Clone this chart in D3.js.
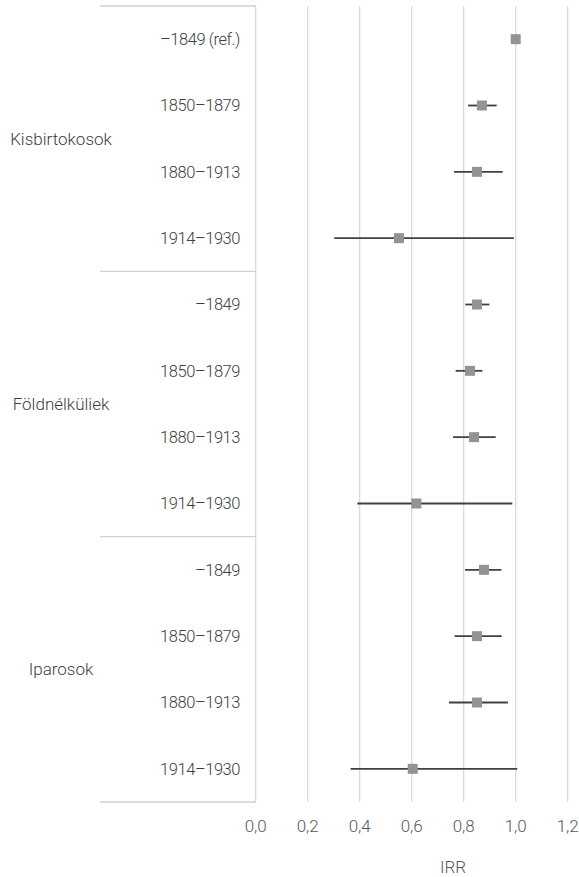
<!DOCTYPE html>
<html>
<head>
<meta charset="utf-8">
<script src="https://cdn.jsdelivr.net/npm/d3@7"></script>
<style>
  html, body { margin: 0; padding: 0; background: #fff; }
  svg text { font-family: Roboto, "Open Sans", sans-serif; font-weight: 300; }
</style>
</head>
<body>
<svg id="chart" width="579" height="877"></svg>
<script>
const groups = ["Kisbirtokosok", "Földnélküliek", "Iparosok"];
const periods = ["–1849 (ref.)", "1850–1879", "1880–1913", "1914–1930",
                 "–1849", "1850–1879", "1880–1913", "1914–1930",
                 "–1849", "1850–1879", "1880–1913", "1914–1930"];
const irr   = [1.000, 0.870, 0.851, 0.551, 0.851, 0.824, 0.840, 0.618, 0.878, 0.851, 0.851, 0.604];
const lower = [null, 0.817, 0.763, 0.302, 0.806, 0.769, 0.759, 0.391, 0.805, 0.765, 0.743, 0.365];
const upper = [null, 0.927, 0.950, 0.993, 0.899, 0.872, 0.923, 0.987, 0.945, 0.946, 0.970, 1.006];
const xTicks = [0, 0.2, 0.4, 0.6, 0.8, 1.0, 1.2];
const xTitle = "IRR";

const svg = d3.select("#chart");
const plotLeft = 255.7, plotRight = 567.7, plotTop = 6, plotBottom = 802;
const labelLeft = 100;

const x = d3.scaleLinear().domain([0, 1.2]).range([plotLeft, plotRight]);
const rows = d3.range(periods.length);
const y = d3.scaleBand().domain(rows).range([plotTop, plotBottom]);
const gBand = d3.scaleBand().domain(groups).range([plotTop, plotBottom]);

// gridlines
svg.append("g").selectAll("line").data(xTicks).join("line")
  .attr("x1", d => x(d)).attr("x2", d => x(d))
  .attr("y1", plotTop).attr("y2", plotBottom)
  .attr("stroke", "#d9d9d9").attr("stroke-width", 1.3);

// category frame lines (horizontal separators in the label area)
const sepYs = [plotTop, ...groups.slice(1).map(g => gBand(g)), plotBottom];
svg.append("g").selectAll("line").data(sepYs).join("line")
  .attr("x1", labelLeft).attr("x2", plotLeft)
  .attr("y1", d => d).attr("y2", d => d)
  .attr("stroke", "#d0d0d0").attr("stroke-width", 1.3);

// period labels
svg.append("g").selectAll("text").data(rows).join("text")
  .attr("x", 240).attr("y", i => y(i) + y.bandwidth() / 2)
  .attr("dy", "0.35em").attr("text-anchor", "end")
  .attr("font-size", 16.5).attr("letter-spacing", "-0.45px").attr("fill", "#404040")
  .text(i => periods[i]);

// group labels
svg.append("g").selectAll("text").data(groups).join("text")
  .attr("x", 61).attr("y", g => gBand(g) + gBand.bandwidth() / 2)
  .attr("dy", "0.35em").attr("text-anchor", "middle")
  .attr("font-size", 17).attr("fill", "#404040")
  .text(g => g);

// CI lines
svg.append("g").selectAll("line").data(rows.filter(i => lower[i] !== null)).join("line")
  .attr("x1", i => x(lower[i])).attr("x2", i => x(upper[i]))
  .attr("y1", i => y(i) + y.bandwidth() / 2).attr("y2", i => y(i) + y.bandwidth() / 2)
  .attr("stroke", "#404040").attr("stroke-width", 1.8);

// markers
const ms = 10;
svg.append("g").selectAll("rect").data(rows).join("rect")
  .attr("x", i => x(irr[i]) - ms / 2).attr("y", i => y(i) + y.bandwidth() / 2 - ms / 2)
  .attr("width", ms).attr("height", ms)
  .attr("fill", "#939396");

// x tick labels
svg.append("g").selectAll("text").data(xTicks).join("text")
  .attr("x", d => x(d)).attr("y", 826.5).attr("dy", "0.35em")
  .attr("text-anchor", "middle").attr("font-size", 17).attr("fill", "#595959")
  .text(d => d3.format(".1f")(d).replace(".", ","));

// axis title
svg.append("text").attr("x", 453).attr("y", 867).attr("dy", "0.35em")
  .attr("text-anchor", "middle").attr("font-size", 17).attr("fill", "#595959")
  .text(xTitle);
</script>
</body>
</html>
